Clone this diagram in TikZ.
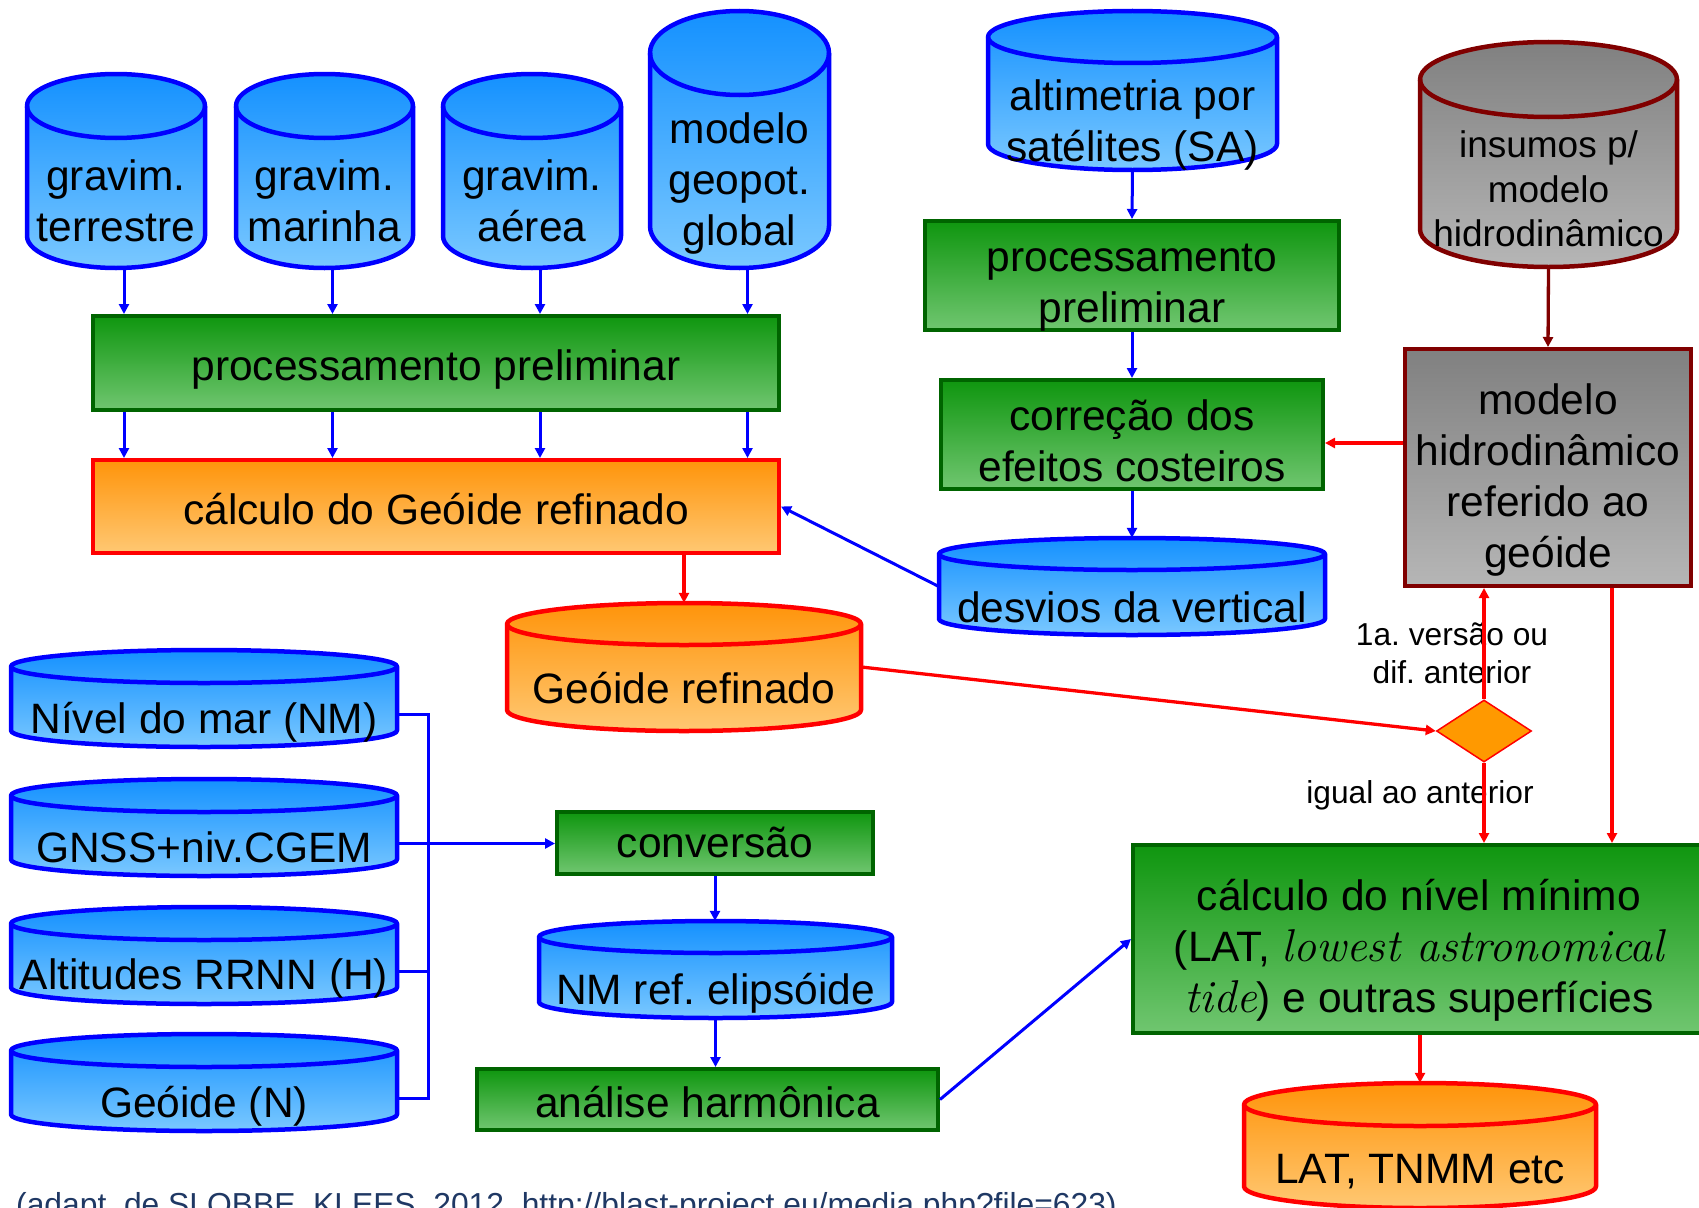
\documentclass[tikz,border=0pt]{standalone}
\usepackage{fontspec}
\setsansfont{Liberation Sans}
\usetikzlibrary{shapes.geometric,arrows.meta}
\frenchspacing
\definecolor{cblue1}{RGB}{20,145,255}
\definecolor{cblue2}{RGB}{122,200,255}
\definecolor{cgreenb}{RGB}{0,100,0}
\definecolor{cgreen1}{RGB}{15,150,15}
\definecolor{cgreen2}{RGB}{112,198,112}
\definecolor{corange1}{RGB}{255,148,10}
\definecolor{corange2}{RGB}{255,200,115}
\definecolor{cgray1}{RGB}{128,128,128}
\definecolor{cgray2}{RGB}{182,182,182}
\definecolor{cdred}{RGB}{128,0,0}
\definecolor{cdia}{RGB}{255,153,0}
\definecolor{ccap}{RGB}{31,56,100}
\tikzset{
 bluecyl/.style={draw=blue, line width=4.5pt, line join=round, top color=cblue1, bottom color=cblue2},
 blueline/.style={draw=blue, line width=4.5pt},
 orangecyl/.style={draw=red, line width=4.5pt, line join=round, top color=corange1, bottom color=corange2},
 orangeline/.style={draw=red, line width=4.5pt},
 graycyl/.style={draw=cdred, line width=4.5pt, line join=round, top color=cgray1, bottom color=cgray2},
 grayline/.style={draw=cdred, line width=4.5pt},
 greenbox/.style={draw=cgreenb, line width=4pt, top color=cgreen1, bottom color=cgreen2, inner sep=0},
 orangebox/.style={draw=red, line width=4pt, top color=corange1, bottom color=corange2, inner sep=0},
 graybox/.style={draw=cdred, line width=4pt, top color=cgray1, bottom color=cgray2, inner sep=0},
 txt/.style={font=\sffamily\fontsize{42.5}{51}\selectfont, align=center, inner sep=0, yshift=-4.5pt},
 lbl/.style={font=\sffamily\fontsize{31.7}{38}\selectfont, align=center, inner sep=0, yshift=-4pt},
 tip/.style={-{Triangle[length=10pt,width=10pt]}},
 bline/.style={draw=blue, line width=3pt},
 barrow/.style={bline, tip},
 rarrow/.style={draw=red, line width=3.3pt, tip},
 darrow/.style={draw=cdred, line width=3.3pt, tip},
}
\newcommand\itserif[1]{{\rmfamily\itshape\fontsize{46}{51}\selectfont #1}}
\newcommand\dbcyl[7]{%
 \pgfmathsetmacro\cyA{(#3+#4)/2}%
 \pgfmathsetmacro\cyR{(#4-#3)/2}%
 \pgfmathsetmacro\cyT{#5+#7}%
 \pgfmathsetmacro\cyB{#6-#7}%
 \pgfmathsetmacro\cyKx{0.5523*\cyR}%
 \pgfmathsetmacro\cyKy{0.5523*#7}%
 \pgfmathsetmacro\cyW{#4-#3}%
 \pgfmathsetmacro\cyH{#6-#5}%
 \pgfmathsetmacro\cyM{(#5+#6)/2}%
 \pgfmathsetmacro\cyE{#5+2*#7}%
 \path[#1cyl] (#3,\cyT) -- (#3,\cyB) .. controls (#3,\cyB+\cyKy) and (\cyA-\cyKx,#6) .. (\cyA,#6) .. controls (\cyA+\cyKx,#6) and (#4,\cyB+\cyKy) .. (#4,\cyB) -- (#4,\cyT) .. controls (#4,\cyT-\cyKy) and (\cyA+\cyKx,#5) .. (\cyA,#5) .. controls (\cyA-\cyKx,#5) and (#3,\cyT-\cyKy) .. (#3,\cyT) -- cycle;
 \draw[#1line] (#3,\cyT) .. controls (#3,\cyT+\cyKy) and (\cyA-\cyKx,\cyE) .. (\cyA,\cyE) .. controls (\cyA+\cyKx,\cyE) and (#4,\cyT+\cyKy) .. (#4,\cyT);
 \node[inner sep=0, minimum width=\cyW pt, minimum height=\cyH pt] (#2) at (\cyA,\cyM) {};
}
\newcommand\mkbox[6]{%
 \pgfmathsetmacro\bxW{#4-#3-4}%
 \pgfmathsetmacro\bxH{#6-#5-4}%
 \node[#1, minimum width=\bxW pt, minimum height=\bxH pt] (#2) at ({(#3+#4)/2},{(#5+#6)/2}) {};
}
\begin{document}
\begin{tikzpicture}[x=1pt,y=-1pt]
\useasboundingbox (0,0) rectangle (1699,1207);
\clip (0,0) rectangle (1699,1207);
\fill[white] (0,0) rectangle (1699,1207);
% cylinders
\dbcyl{blue}{gt}{27}{205}{74}{268}{32}
\dbcyl{blue}{gm}{236}{413}{74}{268}{32}
\dbcyl{blue}{ga}{443}{621}{74}{268}{32}
\dbcyl{blue}{mg}{650}{829}{11}{268}{42}
\dbcyl{blue}{sa}{988}{1277}{11}{170}{26}
\dbcyl{gray}{ins}{1420}{1677}{42}{267}{37.5}
\dbcyl{blue}{dv}{939}{1325}{538}{635}{16}
\dbcyl{orange}{gr}{507}{861}{603}{731}{21}
\dbcyl{blue}{nm}{11}{397}{650}{747}{16.5}
\dbcyl{blue}{gnss}{11}{397}{779}{876}{16.5}
\dbcyl{blue}{alt}{11}{397}{907}{1004}{16.5}
\dbcyl{blue}{gn}{11}{397}{1034}{1131}{16.5}
\dbcyl{blue}{nmref}{539}{892}{921}{1018}{16}
\dbcyl{orange}{latc}{1244}{1596}{1083}{1208}{21.5}
% boxes
\mkbox{greenbox}{pp1}{91}{781}{314}{412}
\mkbox{orangebox}{calc}{91}{781}{458}{555}
\mkbox{greenbox}{pp2}{923}{1341}{219}{332}
\mkbox{greenbox}{corr}{939}{1325}{378}{491}
\mkbox{graybox}{mh}{1403}{1693}{347}{588}
\mkbox{greenbox}{conv}{555}{875}{810}{876}
\mkbox{greenbox}{ah}{475}{940}{1067}{1132}
\mkbox{greenbox}{lat}{1131}{1705}{843}{1035}
\node[diamond, draw=red, line width=1.5pt, fill=cdia, minimum width=95pt, minimum height=62pt, inner sep=0] (dec) at (1484,731) {};
% texts
\node[txt] (gtT) at (116,201) {\strut gravim.\\terrestre\strut};
\node[txt] (gmT) at (324.5,201) {\strut gravim.\\marinha\strut};
\node[txt] (gaT) at (532,201) {\strut gravim.\\aérea\strut};
\node[txt] (mgT) at (739.5,180) {\strut modelo\\geopot.\\global\strut};
\node[txt] (saT) at (1132.5,121.5) {\strut altimetria por\\satélites (SA)\strut};
\node[txt, font=\sffamily\fontsize{37}{44.5}\selectfont] (insT) at (1548.5,189) {\strut insumos p/\\modelo\\hidrodinâmico\strut};
\node[txt] (pp1T) at (436,366) {\strut processamento preliminar};
\node[txt] (calcT) at (436,510) {\strut cálculo do Geóide refinado};
\node[txt] (pp2T) at (1132,282.5) {\strut processamento\\preliminar\strut};
\node[txt] (corrT) at (1132,441.5) {\strut correção dos\\efeitos costeiros\strut};
\node[txt] (mhT) at (1548,476.5) {\strut modelo\\hidrodinâmico\\referido ao\\geóide\strut};
\node[txt] (dvT) at (1132,608) {\strut desvios da vertical};
\node[txt] (grT) at (684,689) {\strut Geóide refinado};
\node[txt] (nmT) at (204,719) {\strut Nível do mar (NM)};
\node[txt] (gnssT) at (204,848) {\strut GNSS+niv.CGEM};
\node[txt] (altT) at (204,975) {\strut Altitudes RRNN (H)};
\node[txt] (gnT) at (204,1103) {\strut Geóide (N)};
\node[txt] (convT) at (715,843) {\strut conversão};
\node[txt] (nmrefT) at (715.5,990) {\strut NM ref. elipsóide};
\node[txt] (ahT) at (707.5,1103) {\strut análise harmônica};
\node[txt] (latT) at (1419,947) {\strut cálculo do nível mínimo\\(LAT, \itserif{lowest astronomical}\\\itserif{tide}) e outras superfícies\strut};
\node[txt] (latcT) at (1420,1169) {\strut LAT, TNMM etc};
\node[lbl] (l1) at (1452,653) {\strut 1a. versão ou\\dif. anterior\strut};
\node[lbl] (l2) at (1420,792) {\strut igual ao anterior};
% connectors
\foreach \n in {gt,gm,ga,mg}{
 \coordinate (s\n) at ([xshift=8pt]\n.south);
 \draw[barrow] (s\n) -- (s\n |- pp1.north);
 \draw[barrow] (s\n |- pp1.south) -- (s\n |- calc.north);
}
\draw[barrow] (sa.south) -- (pp2.north);
\draw[barrow] (pp2.south) -- (corr.north);
\draw[barrow] (corr.south) -- (dv.north);
\draw[barrow] (dv.west) -- (calc.east);
\draw[darrow] (ins.south) -- (mh.north);
\coordinate (h1) at (1350,443);
\draw[rarrow] (mh.west |- h1) -- (corr.east |- h1);
\draw[rarrow] (calc.south -| gr.north) -- (gr.north);
\draw[rarrow] (gr.east) -- (dec.west);
\draw[rarrow] (dec.north) -- (dec.north |- mh.south);
\draw[rarrow] (dec.south) -- (dec.south |- lat.north);
\coordinate (v2) at (1612,700);
\draw[rarrow] (v2 |- mh.south) -- (v2 |- lat.north);
\draw[rarrow] (lat.south -| latc.north) -- (latc.north);
\coordinate (bx) at (428,900);
\coordinate (nmE) at ([yshift=-16pt]nm.east);
\coordinate (gnssE) at ([yshift=-16pt]gnss.east);
\coordinate (altE) at ([yshift=-16pt]alt.east);
\coordinate (gnE) at ([yshift=-16pt]gn.east);
\draw[bline] (nmE) -- (nmE -| bx) -- (gnE -| bx) -- (gnE);
\draw[bline] (altE) -- (altE -| bx);
\draw[barrow] (gnssE) -- (gnssE -| conv.west);
\draw[barrow] (conv.south) -- (conv.south |- nmref.north);
\draw[barrow] (nmref.south) -- (nmref.south |- ah.north);
\draw[barrow] (ah.east) -- (lat.west);
\node[anchor=base west, font=\sffamily\fontsize{31.8}{38}\selectfont, text=ccap, inner sep=0] (cap) at (16,1215) {(adapt. de SLOBBE, KLEES, 2012, http://blast-project.eu/media.php?file=623)};
\end{tikzpicture}
\end{document}
